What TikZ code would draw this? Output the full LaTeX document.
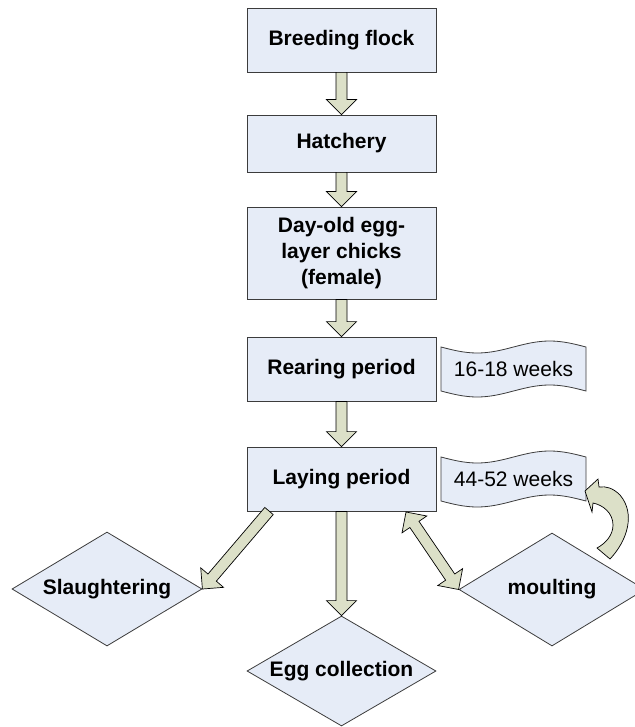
\documentclass[tikz,border=0pt]{standalone}
\usepackage{fontspec}
\setmainfont{Liberation Sans}
\usetikzlibrary{calc,shapes.geometric}
\definecolor{boxfill}{RGB}{230,236,247}
\definecolor{arrfillc}{RGB}{220,224,200}
\definecolor{edgec}{RGB}{60,60,60}
\tikzset{
  stage/.style={draw=edgec, fill=boxfill, line width=0.8pt, minimum width=189pt, inner sep=0pt, align=center, font=\fontsize{21}{26}\selectfont\bfseries},
  dec/.style={shape=diamond, draw=edgec, fill=boxfill, line width=0.8pt, inner sep=0pt, aspect=1.68, font=\fontsize{21}{26}\selectfont\bfseries},
  tagtext/.style={font=\fontsize{21}{26}\selectfont, inner sep=0pt},
  tagshape/.style={draw=edgec, fill=boxfill, line width=0.8pt},
  arrfill/.style={draw=black, fill=arrfillc, line width=0.7pt, line join=miter},
}
\newcommand{\blockarr}[2]{%
  \coordinate (ba-s) at (#1);
  \coordinate (ba-t) at (#2);
  \coordinate (ba-h) at ($(ba-t)!15pt!(ba-s)$);
  \filldraw[arrfill]
    ($(ba-s)!5.5pt!90:(ba-t)$) --
    ($(ba-h)!5.5pt!-90:(ba-s)$) --
    ($(ba-h)!15pt!-90:(ba-s)$) --
    (ba-t) --
    ($(ba-h)!15pt!90:(ba-s)$) --
    ($(ba-h)!5.5pt!90:(ba-s)$) --
    ($(ba-s)!5.5pt!-90:(ba-t)$) -- cycle;
}
\begin{document}
\begin{tikzpicture}[x=1pt,y=-1pt]
\useasboundingbox (0,0) rectangle (634,727);
% stages
\node[stage, minimum height=64pt] (breed) at (341.5,40) {Breeding flock};
\node[stage, minimum height=57pt] (hatch) at (341.5,143.5) {Hatchery};
\node[stage, minimum height=92pt] (chicks) at (341.5,253) {Day-old egg-\\layer chicks\\(female)};
\node[stage, minimum height=64pt] (rear) at (341.5,369) {Rearing period};
\node[stage, minimum height=64pt] (lay) at (341.5,479) {Laying period};
% outcomes
\node[dec, minimum width=190pt, minimum height=114pt] (slaught) at (107,589) {Slaughtering};
\node[dec, minimum width=186pt, minimum height=113pt] (moult) at (552,589.5) {moulting};
\node[dec, minimum width=189pt, minimum height=110pt] (egg) at (341.5,671) {Egg collection};
% duration tags
\draw[tagshape] (441,347) sin (477.25,353) cos (513.5,347) sin (549.75,341) cos (586,347)
  -- (586,391) sin (549.75,385) cos (513.5,391) sin (477.25,397) cos (441,391) -- cycle;
\node[tagtext] (w1) at (513.5,369) {16-18 weeks};
\draw[tagshape] (441,457) sin (477.25,463) cos (513.5,457) sin (549.75,451) cos (586,457)
  -- (586,501) sin (549.75,495) cos (513.5,501) sin (477.25,507) cos (441,501) -- cycle;
\node[tagtext] (w2) at (513.5,479) {44-52 weeks};
% arrows
\blockarr{breed.south}{hatch.north}
\blockarr{hatch.south}{chicks.north}
\blockarr{chicks.south}{rear.north}
\blockarr{rear.south}{lay.north}
\blockarr{lay.south}{egg.north}
\coordinate (slstart) at (269,511);
\blockarr{slstart}{slaught.east}
% double arrow laying <-> moulting
\coordinate (da-a) at (406,512);
\coordinate (da-b) at (moult.west);
\coordinate (da-ha) at ($(da-a)!15pt!(da-b)$);
\coordinate (da-hb) at ($(da-b)!15pt!(da-a)$);
\filldraw[arrfill] (da-a) --
  ($(da-ha)!15pt!90:(da-b)$) -- ($(da-ha)!5.5pt!90:(da-b)$) --
  ($(da-hb)!5.5pt!-90:(da-a)$) -- ($(da-hb)!15pt!-90:(da-a)$) --
  (da-b) --
  ($(da-hb)!15pt!90:(da-a)$) -- ($(da-hb)!5.5pt!90:(da-a)$) --
  ($(da-ha)!5.5pt!-90:(da-b)$) -- ($(da-ha)!15pt!-90:(da-b)$) -- cycle;
% curved arrow moulting -> tag
\filldraw[arrfill] (610,559) .. controls (627,541) and (636,514) .. (620,495)
  .. controls (613,488) and (606,486) .. (599,487) -- (598,479) -- (585,491) -- (592,512) -- (593,503)
  .. controls (603,505) and (613,513) .. (613,525)
  .. controls (613,535) and (606,543) .. (597,548) -- cycle;
\end{tikzpicture}
\end{document}
